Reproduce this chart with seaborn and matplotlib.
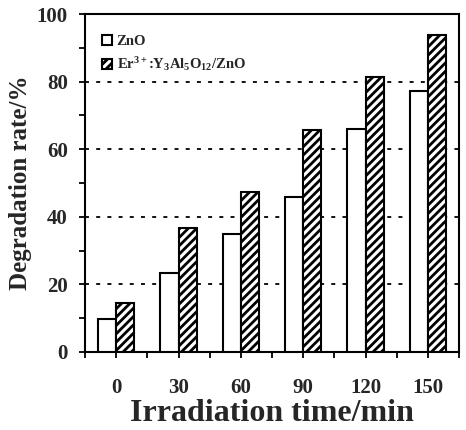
import matplotlib
matplotlib.use("Agg")
import matplotlib.pyplot as plt
from matplotlib.ticker import MultipleLocator, FixedLocator
import seaborn as sns
import pandas as pd

times = ["0", "30", "60", "90", "120", "150"]
zno = [9.8, 23.5, 35.0, 46.0, 66.0, 77.3]
er = [14.5, 36.8, 47.2, 65.6, 81.3, 93.7]
series = ["ZnO", "Er$^{3+}$:Y$_{3}$Al$_{5}$O$_{12}$/ZnO"]

df = pd.DataFrame({
    "time": times * 2,
    "rate": zno + er,
    "sample": [series[0]] * len(times) + [series[1]] * len(times),
})

sns.set_theme(style="white")
plt.rcParams["font.family"] = ["Liberation Serif", "DejaVu Serif"]
plt.rcParams["font.weight"] = "bold"
plt.rcParams["mathtext.fontset"] = "custom"
plt.rcParams["mathtext.rm"] = "Liberation Serif:bold"
plt.rcParams["mathtext.it"] = "Liberation Serif:bold"
plt.rcParams["mathtext.bf"] = "Liberation Serif:bold"
plt.rcParams["mathtext.default"] = "rm"
plt.rcParams["hatch.linewidth"] = 2.0
plt.rcParams["hatch.color"] = "black"

fig = plt.figure(figsize=(4.66, 4.30), dpi=100)
ax = fig.add_axes([0.1824, 0.1814, 0.8026, 0.786])

sns.barplot(data=df, x="time", y="rate", hue="sample", order=times,
            hue_order=series, palette=["white", "white"], width=0.58,
            edgecolor="black", linewidth=1.5, gap=0, ax=ax, legend=False,
            zorder=3)

for bar in ax.containers[1]:
    bar.set_hatch("////")

ax.set_xlim(-0.5, 5.5)
ax.set_ylim(0, 100)
ax.yaxis.set_major_locator(MultipleLocator(20))
ax.yaxis.set_minor_locator(MultipleLocator(10))
ax.xaxis.set_minor_locator(FixedLocator([i - 0.5 for i in range(7)]))

for yv in [20, 40, 60, 80]:
    ax.axhline(yv, color="black", lw=1.3, ls=(0, (2.2, 4.0)), zorder=1)

for s in ax.spines.values():
    s.set_visible(True)
    s.set_color("black")
    s.set_linewidth(1.5)

ax.tick_params(axis="both", which="both", direction="out", length=4.5,
               width=1.3, color="black", bottom=True, left=True,
               top=False, right=False)
ax.tick_params(axis="y", which="major", labelsize=15, pad=8)
ax.tick_params(axis="x", which="major", labelsize=15, pad=14)

for lab in ax.get_xticklabels() + ax.get_yticklabels():
    lab.set_fontweight("bold")

ax.set_xlabel("Irradiation time/min", fontsize=23, fontweight="bold", labelpad=1)
ax.set_ylabel("Degradation rate/%", fontsize=18, fontweight="bold", labelpad=3)

handles = [ax.containers[0][0], ax.containers[1][0]]
leg = ax.legend(handles, series, loc="upper left", bbox_to_anchor=(0.03, 0.955),
                frameon=False, fontsize=10.5, handlelength=0.7, handleheight=0.7,
                handletextpad=0.3, labelspacing=0.45, borderaxespad=0)
for t in leg.get_texts():
    t.set_fontweight("bold")

fig.savefig("out.png", dpi=100, facecolor="white")
